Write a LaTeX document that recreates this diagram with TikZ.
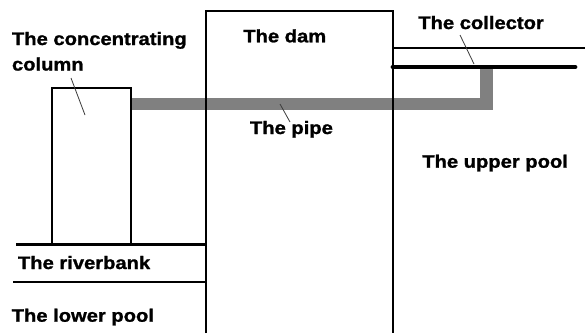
\documentclass[tikz,border=0pt]{standalone}
\usepackage{fontspec}
\setmainfont{Liberation Sans}[FakeStretch=1.12,BoldFeatures={FakeBold=1.3}]
\definecolor{pipegray}{RGB}{128,128,128}
\definecolor{pointergray}{RGB}{60,60,60}
\begin{document}
\begin{tikzpicture}[x=1pt,y=-1pt,
  wall/.style={draw=black,line width=2.4pt},
  thinwall/.style={draw=black,line width=1.7pt},
  pipeline/.style={draw=pipegray,line width=12.5pt,line cap=butt,line join=miter},
  collectorbar/.style={draw=black,line width=4.8pt,line cap=round},
  pointer/.style={draw=pointergray,line width=0.8pt},
  label/.style={font=\fontsize{18}{20}\selectfont\bfseries,anchor=base west,inner sep=0pt,outer sep=0pt}]
  \useasboundingbox (0,0) rectangle (585,333);
  \fill[white] (0,0) rectangle (585,333);

  % pipe from the column, through the dam, up to the collector
  \coordinate (pipeA) at (131,104);
  \coordinate (pipeB) at (486.5,104);
  \coordinate (pipeC) at (486.5,68);
  \draw[pipeline] (pipeA) -- (pipeB) -- (pipeC);

  % the dam (open at the bottom)
  \draw[wall] (206,333) -- (206,11) -- (393,11) -- (393,333);

  % the concentrating column
  \draw[wall] (52,244) -- (52,88) -- (131,88) -- (131,244);

  % riverbank lines
  \draw[wall] (16,244.3) -- (206,244.3);
  \draw[wall] (13,281.7) -- (206,281.7);

  % upper pool water line
  \draw[thinwall] (393,47.7) -- (585,47.7);

  % the collector
  \draw[collectorbar] (393,67) -- (575,67);

  % labels
  \node[label] (lcol1) at (12,45) {The concentrating};
  \node[label] (lcol2) at (12,70.5) {column};
  \node[label] (ldam) at (243.3,42.3) {The dam};
  \node[label] (lcoll) at (418.3,29) {The collector};
  \node[label] (lpipe) at (250,134) {The pipe};
  \node[label] (lup) at (422.3,167.7) {The upper pool};
  \node[label] (lbank) at (18,269) {The riverbank};
  \node[label] (llow) at (11.7,321.7) {The lower pool};

  % pointer lines
  \coordinate (pcolA) at (71,78);
  \coordinate (pcolB) at (85,115);
  \coordinate (pcollA) at (460,35);
  \coordinate (pcollB) at (474,64);
  \coordinate (ppipeA) at (280,104);
  \coordinate (ppipeB) at (290,122);
  \draw[pointer] (pcolA) -- (pcolB);
  \draw[pointer] (pcollA) -- (pcollB);
  \draw[pointer] (ppipeA) -- (ppipeB);
\end{tikzpicture}
\end{document}
